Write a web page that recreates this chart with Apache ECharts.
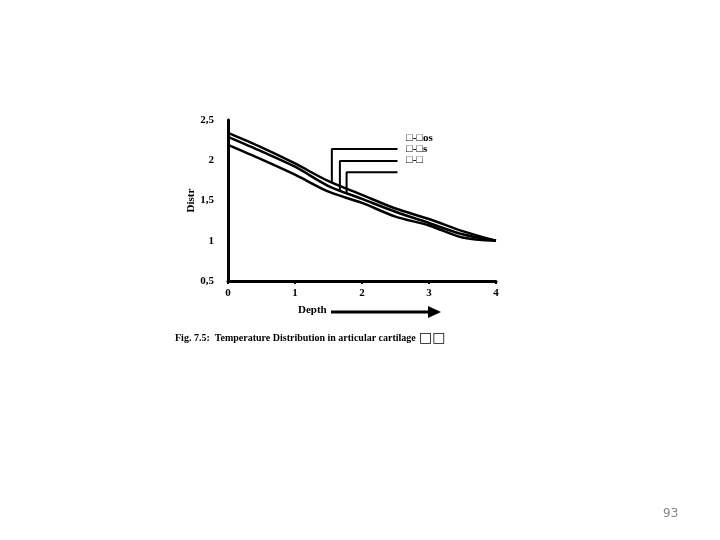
<!DOCTYPE html>
<html>
<head>
<meta charset="utf-8">
<script src="https://cdn.jsdelivr.net/npm/echarts@6/dist/echarts.min.js"></script>
<style>
  html, body { margin: 0; padding: 0; background: #fff; }
  #chart { width: 720px; height: 540px; }
</style>
</head>
<body>
<div id="chart"></div>
<script>
// depth positions and the three curves
const depth = [0, 0.5, 1, 1.5, 2, 2.5, 3, 3.5, 4]
const curveTop = [2.34, 2.16, 1.96, 1.74, 1.57, 1.40, 1.27, 1.12, 1.0]
const curveMid = [2.29, 2.11, 1.92, 1.68, 1.52, 1.36, 1.22, 1.08, 1.0]
const curveLow = [2.19, 2.01, 1.82, 1.61, 1.47, 1.30, 1.19, 1.04, 1.0]
const curveNames = ['\u25a1-\u25a1os', '\u25a1-\u25a1s', '\u25a1-\u25a1']
// leader lines from the labels to the curves: [x, yCurve, yLabel]
const leaders = [[1.55, 1.72, 2.14], [1.67, 1.63, 1.99], [1.77, 1.59, 1.85]]
const leaderEndX = 2.53

const serif = '"Liberation Serif", "DejaVu Serif", serif'

function pairs(ys) {
  return depth.map((x, i) => [x, ys[i]])
}

const curveSeries = [curveTop, curveMid, curveLow].map((ys, i) => ({
  name: curveNames[i],
  type: 'line',
  data: pairs(ys),
  smooth: 0.3,
  symbol: 'none',
  lineStyle: { color: '#000', width: 2.5 },
  z: 3
}))

const leaderSeries = leaders.map(l => ({
  type: 'line',
  data: [[l[0], l[1]], [l[0], l[2]], [leaderEndX, l[2]]],
  symbol: 'none',
  lineStyle: { color: '#000', width: 2 },
  silent: true,
  z: 2
}))

const chart = echarts.init(document.getElementById('chart'))
chart.setOption({
  animation: false,
  grid: { left: 228, right: 224, top: 120, bottom: 259 },
  xAxis: {
    type: 'value',
    min: 0,
    max: 4,
    interval: 1,
    axisLine: { lineStyle: { color: '#000', width: 3 } },
    axisTick: { show: true, length: 3, lineStyle: { color: '#000', width: 2 } },
    splitLine: { show: false },
    axisLabel: { color: '#000', fontFamily: serif, fontWeight: 'bold', fontSize: 11, margin: 7 }
  },
  yAxis: {
    type: 'value',
    min: 0.5,
    max: 2.5,
    interval: 0.5,
    name: 'Distr',
    nameLocation: 'middle',
    nameGap: 19,
    nameTextStyle: { color: '#000', fontFamily: serif, fontWeight: 'bold', fontSize: 11 },
    axisLine: { show: true, lineStyle: { color: '#000', width: 3 } },
    axisTick: { show: false },
    splitLine: { show: false },
    axisLabel: {
      color: '#000', fontFamily: serif, fontWeight: 'bold', fontSize: 11, margin: 14,
      formatter: v => String(v).replace('.', ',')
    }
  },
  series: curveSeries.concat(leaderSeries),
  graphic: [
    { type: 'text', left: 406, top: 133, style: { text: curveNames[0], font: 'bold 11px ' + serif, fill: '#000' } },
    { type: 'text', left: 406, top: 144, style: { text: curveNames[1], font: 'bold 11px ' + serif, fill: '#000' } },
    { type: 'text', left: 406, top: 155, style: { text: curveNames[2], font: 'bold 11px ' + serif, fill: '#000' } },
    { type: 'text', left: 298, top: 305, style: { text: 'Depth', font: 'bold 11px ' + serif, fill: '#000' } },
    {
      type: 'line',
      shape: { x1: 331, y1: 312, x2: 430, y2: 312 },
      style: { stroke: '#000', lineWidth: 3 }
    },
    {
      type: 'polygon',
      shape: { points: [[428, 306], [441, 312], [428, 318]] },
      style: { fill: '#000' }
    },
    {
      type: 'text', left: 175, top: 333,
      style: { text: 'Fig. 7.5:  Temperature Distribution in articular cartilage', font: 'bold 10px ' + serif, fill: '#000' }
    },
    {
      type: 'text', left: 419, top: 331,
      style: { text: '\u25a1\u25a1', font: 'bold 14px "DejaVu Sans", sans-serif', fill: '#000' }
    },
    { type: 'text', left: 663, top: 508, style: { text: '93', font: '12px "DejaVu Sans", sans-serif', fill: '#888' } }
  ]
})
</script>
</body>
</html>
